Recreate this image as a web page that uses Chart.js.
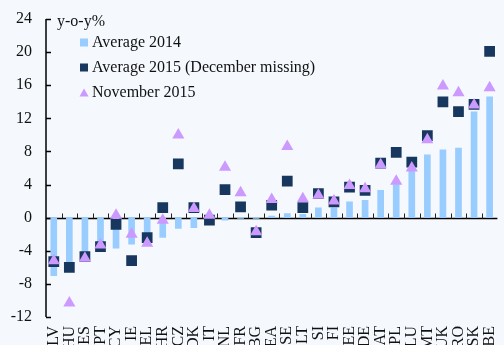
<!DOCTYPE html>
<html>
<head>
<meta charset="utf-8">
<script src="https://cdn.jsdelivr.net/npm/chart.js@4"></script>
<style>
  html, body { margin: 0; padding: 0; overflow: hidden; background: #f5f9fd; }
  #wrap { width: 505px; height: 353px; }
</style>
</head>
<body>
<div id="wrap"><canvas id="inflation"></canvas></div>
<script>
var categories = ['LV','HU','ES','PT','CY','IE','EL','HR','CZ','DK','IT','NL','FR','BG','EA',
                  'SE','LT','SI','FI','EE','DE','AT','PL','LU','MT','UK','RO','SK','BE'];

var avg2014 = [-7.0, -6.4, -5.0, -3.6, -3.7, -3.2, -2.2, -2.4, -1.3, -1.2, -0.4, -0.3, -0.1, -0.1, 0.2,
               0.5, 0.4, 1.2, 1.2, 1.9, 2.1, 3.3, 4.0, 5.6, 7.6, 8.2, 8.4, 12.8, 14.6];

var avg2015 = [-5.3, -6.0, -4.7, -3.5, -0.8, -5.2, -2.4, 1.2, 6.5, 1.2, -0.3, 3.4, 1.3, -1.8, 1.5,
               4.4, 1.2, 2.9, 1.9, 3.7, 3.3, 6.6, 7.9, 6.7, 9.9, 14.0, 12.8, 13.7, 20.1];

var nov2015 = [-5.2, -10.3, -4.9, -3.3, 0.3, -2.0, -3.1, -0.3, 10.0, 1.1, 0.3, 6.1, 3.0, -1.7, 2.2,
               8.6, 2.3, 2.7, 2.0, 3.9, 3.5, 6.4, 4.4, 6.0, 9.4, 15.9, 15.1, 13.6, 15.7];

var yTicks = { min: -12, max: 24, step: 4 };
var unitLabel = 'y-o-y%';

var serif = '"Liberation Serif", "Times New Roman", serif';
var ink = '#111';

// axis line, inward ticks, zero line with category ticks
var frame = {
    id: 'frame',
    beforeDatasetsDraw: function(chart) {
        var ctx = chart.ctx, a = chart.chartArea, x = chart.scales.x, y = chart.scales.y;
        ctx.save();
        ctx.strokeStyle = '#000';
        ctx.lineWidth = 1.5;
        ctx.beginPath();
        ctx.moveTo(a.left, a.top);
        ctx.lineTo(a.left, a.bottom);
        y.ticks.forEach(function(t) {
            var py = Math.round(y.getPixelForValue(t.value)) + 0.5;
            ctx.moveTo(a.left, py);
            ctx.lineTo(a.left + 5, py);
        });
        ctx.stroke();

        var y0 = Math.round(y.getPixelForValue(0)) + 0.5;
        ctx.beginPath();
        ctx.moveTo(a.left, y0);
        ctx.lineTo(a.right, y0);
        ctx.stroke();

        ctx.lineWidth = 1;
        ctx.strokeStyle = '#222';
        ctx.beginPath();
        for (var i = 1; i < categories.length; i++) {
            var px = Math.round((x.getPixelForValue(i - 1) + x.getPixelForValue(i)) / 2) + 0.5;
            ctx.moveTo(px, y0);
            ctx.lineTo(px, y0 - 5);
        }
        ctx.stroke();
        ctx.restore();
    },
    afterDraw: function(chart) {
        var ctx = chart.ctx, a = chart.chartArea;
        var ds = chart.data.datasets;
        ctx.save();
        ctx.font = '16px ' + serif;
        ctx.fillStyle = ink;
        ctx.textBaseline = 'alphabetic';
        ctx.fillText(unitLabel, a.left + 11, 25.5);

        ds.forEach(function(d, i) {
            var base = 47 + i * 25;
            var mx = 80, my = base - 8.5;
            ctx.fillStyle = d.backgroundColor;
            if (d.pointStyle === 'triangle') {
                ctx.beginPath();
                ctx.moveTo(mx + 4, my);
                ctx.lineTo(mx + 8.5, my + 8);
                ctx.lineTo(mx - 0.5, my + 8);
                ctx.closePath();
                ctx.fill();
            } else {
                ctx.fillRect(mx, my, 8, 8);
            }
            ctx.fillStyle = ink;
            ctx.fillText(d.label, 92, base);
        });
        ctx.restore();
    }
};

new Chart(document.getElementById('inflation'), {
    type: 'bar',
    data: {
        labels: categories,
        datasets: [{
            label: 'Average 2014',
            data: avg2014,
            backgroundColor: '#99ccff',
            barThickness: 6,
            order: 3
        },
        {
            type: 'line',
            label: 'Average 2015 (December missing)',
            data: avg2015,
            showLine: false,
            pointStyle: 'rect',
            pointRadius: 7.6,
            backgroundColor: '#17375e',
            borderColor: '#17375e',
            borderWidth: 0,
            order: 2
        },
        {
            type: 'line',
            label: 'November 2015',
            data: nov2015,
            showLine: false,
            pointStyle: 'triangle',
            pointRadius: 7,
            backgroundColor: '#cc99ff',
            borderColor: '#cc99ff',
            borderWidth: 0,
            order: 1
        }]
    },
    options: {
        responsive: true,
        maintainAspectRatio: false,
        animation: false,
        layout: { padding: { top: 19, left: 11, right: 0, bottom: 0 } },
        plugins: {
            legend: { display: false },
            tooltip: { enabled: false }
        },
        scales: {
            x: {
                grid: { display: false, drawTicks: false },
                border: { display: false },
                ticks: {
                    autoSkip: false,
                    minRotation: 90,
                    maxRotation: 90,
                    padding: 9,
                    color: ink,
                    font: { family: serif, size: 16 }
                },
                afterFit: function(s) {
                    s.height = 36;
                    s.paddingLeft = 0;
                    s.paddingRight = 0;
                }
            },
            y: {
                min: yTicks.min,
                max: yTicks.max,
                grid: { display: false, drawTicks: false },
                border: { display: false },
                ticks: {
                    stepSize: yTicks.step,
                    padding: 14,
                    color: ink,
                    font: { family: serif, size: 16 }
                },
                afterFit: function(s) {
                    s.width = 35;
                    s.paddingTop = 0;
                    s.paddingBottom = 0;
                }
            }
        }
    },
    plugins: [frame]
});
</script>
</body>
</html>
